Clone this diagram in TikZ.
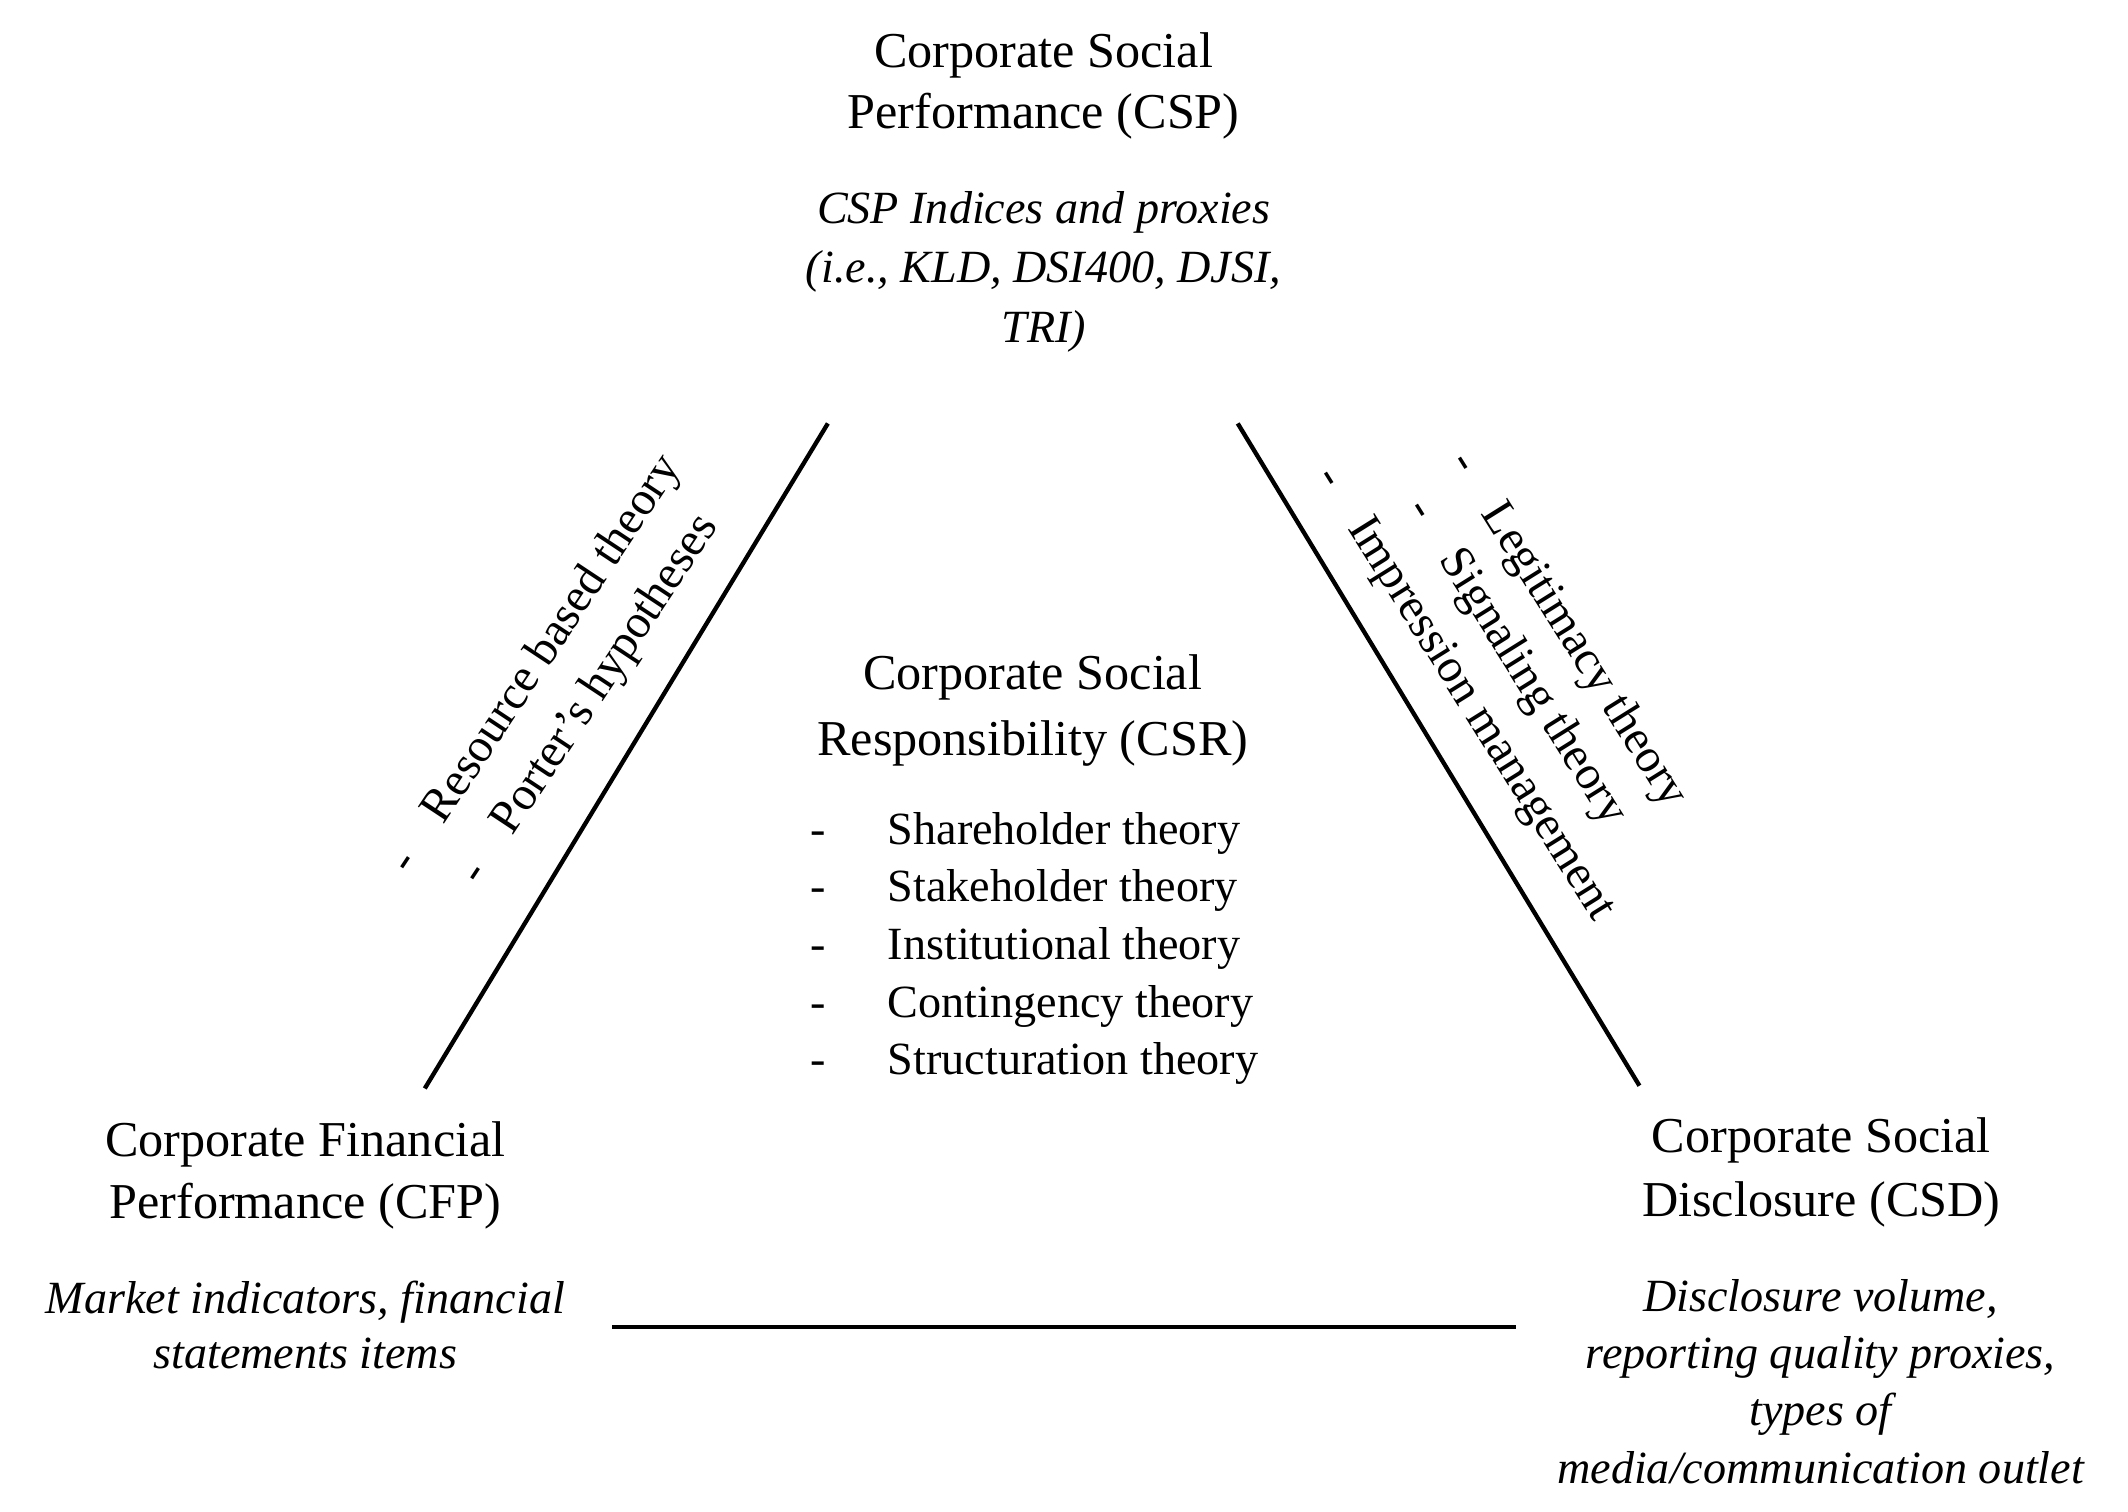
\documentclass[tikz,border=0pt]{standalone}
\usepackage{fontspec}
\setmainfont{Liberation Serif}
\begin{document}
\begin{tikzpicture}[x=1pt,y=-1pt,
  ttl/.style={font=\fontsize{37}{#1}\selectfont, align=center, inner sep=0pt, anchor=base},
  sub/.style={font=\fontsize{34}{#1}\selectfont\itshape, align=center, inner sep=0pt, anchor=base},
  rot/.style={font=\fontsize{35}{#1}\selectfont, align=center, inner sep=0pt, anchor=center},
  edge/.style={line width=3.2pt}]
\useasboundingbox (0,0) rectangle (1568,1114);
% CSP (base anchor = baseline of last line)
\node[ttl=45] (csp) at (769,95) {Corporate Social\\Performance (CSP)};
\node[sub=43.5] (cspsub) at (769,252) {CSP Indices and proxies\\(i.e., KLD, DSI400, DJSI,\\TRI)};
% CSR
\node[ttl=49] (csr) at (761,557) {Corporate Social\\Responsibility (CSR)};
\node[font=\fontsize{34}{42.5}\selectfont, align=left, inner sep=0pt, anchor=base west] (csrlist) at (597,792)
  {\makebox[57pt][l]{-}Shareholder theory\\
   \makebox[57pt][l]{-}Stakeholder theory\\
   \makebox[57pt][l]{-}Institutional theory\\
   \makebox[57pt][l]{-}Contingency theory\\
   \makebox[57pt][l]{-}Structuration theory};
% CFP
\node[ttl=46] (cfp) at (225,898) {Corporate Financial\\Performance (CFP)};
\node[sub=40] (cfpsub) at (225,1008) {Market indicators, financial\\statements items};
% CSD
\node[ttl=47] (csd) at (1342,896) {Corporate Social\\Disclosure (CSD)};
\node[sub=42.3] (csdsub) at (1341.5,1093) {Disclosure volume,\\reporting quality proxies,\\types of\\media/communication outlet};
% rotated theory labels
\node[rot=47, rotate=56.5] (left) at (415,503)
  {\makebox[44pt][l]{-}Resource based theory\\\makebox[44pt][l]{-}Porter’s hypotheses};
\node[rot=44.5, rotate=-58] (right) at (1117,488)
  {\makebox[44pt][l]{-}Legitimacy theory\\\makebox[44pt][l]{-}Signaling theory\\\makebox[44pt][l]{-}Impression management};
% triangle sides
\coordinate (l1) at (313,802); \coordinate (l2) at (610,312);
\coordinate (r1) at (912,312); \coordinate (r2) at (1208,800);
\coordinate (b1) at (451,978); \coordinate (b2) at (1117,978);
\draw[edge] (l1) -- (l2);
\draw[edge] (r1) -- (r2);
\draw[edge] (b1) -- (b2);
\end{tikzpicture}
\end{document}
